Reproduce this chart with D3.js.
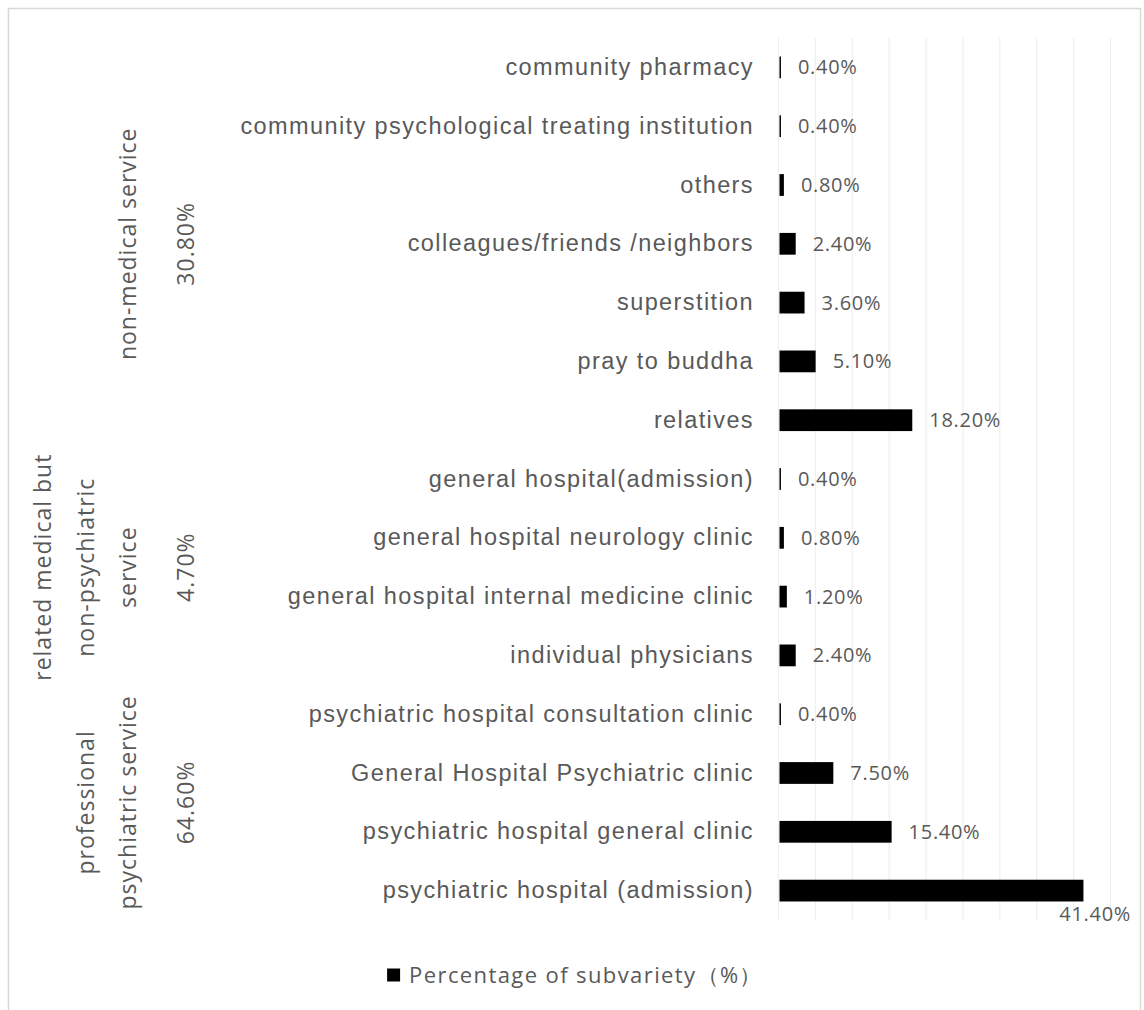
<!DOCTYPE html>
<html>
<head>
<meta charset="utf-8">
<script src="https://cdn.jsdelivr.net/npm/d3@7"></script>
<style>
  html, body { margin: 0; padding: 0; background: #fff; }
  svg { display: block; font-family: "Microsoft YaHei", "Open Sans", "Noto Sans", sans-serif; }
</style>
</head>
<body>
<svg id="chart" width="1144" height="1010"></svg>
<script>
// categories top → bottom, as drawn
const CATEGORIES = [
    "community pharmacy",
    "community psychological treating institution",
    "others",
    "colleagues/friends /neighbors",
    "superstition",
    "pray to buddha",
    "relatives",
    "general hospital(admission)",
    "general hospital neurology clinic",
    "general hospital internal medicine clinic",
    "individual physicians",
    "psychiatric hospital consultation clinic",
    "General Hospital Psychiatric clinic",
    "psychiatric hospital general clinic",
    "psychiatric hospital (admission)"
];
const VALUES = [0.4, 0.4, 0.8, 2.4, 3.6, 5.1, 18.2, 0.4, 0.8, 1.2, 2.4, 0.4, 7.5, 15.4, 41.4];
const LABELS = ["0.40%", "0.40%", "0.80%", "2.40%", "3.60%", "5.10%", "18.20%", "0.40%",
                "0.80%", "1.20%", "2.40%", "0.40%", "7.50%", "15.40%", "41.40%"];

// outer grouping (rotated labels on the left)
const GROUP_LINES = [
    ["non-medical service"],
    ["related medical but", "non-psychiatric", "service"],
    ["professional", "psychiatric service"]
];
const GROUP_PCT = ["30.80%", "4.70%", "64.60%"];
const GROUP_SPAN = [[0, 6], [7, 10], [11, 14]];   // first/last category index

const X_TICKS = [0, 5, 10, 15, 20, 25, 30, 35, 40, 45];
const LEGEND_LABEL = "Percentage of subvariety\uFF08%\uFF09";

const TXT = "#595959";
const svg = d3.select("#chart");

// chart frame
svg.append("rect").attr("x", 8.5).attr("y", 8.5).attr("width", 1132).attr("height", 1020)
    .attr("fill", "#fff").attr("stroke", "#d9d9d9").attr("stroke-width", 1.5);

const plot = { left: 778, right: 1110, top: 38, bottom: 920 };

const x = d3.scaleLinear().domain([0, 45]).range([plot.left, plot.right]);
const y = d3.scaleBand().domain(CATEGORIES).range([plot.top, plot.bottom])
    .paddingInner(0.63).paddingOuter(0.315);

// gridlines
const grid = svg.append("g").attr("transform", `translate(0,${plot.bottom})`)
    .call(d3.axisBottom(x).tickValues(X_TICKS).tickSize(-(plot.bottom - plot.top)).tickFormat(""));
grid.select(".domain").remove();
grid.selectAll("line").attr("stroke", "#efefef").attr("stroke-width", 1.2);

// category axis
const yAx = svg.append("g").attr("transform", `translate(${plot.left},0)`)
    .call(d3.axisLeft(y).tickSize(0).tickPadding(24));
yAx.select(".domain").remove();
yAx.selectAll("text").attr("fill", TXT).attr("font-size", "23.5px")
    .attr("letter-spacing", "1.4px").attr("font-family", null);

// bars — start just right of the zero line, so tiny values read as hairlines
const gap0 = 1.5;
svg.append("g").selectAll("rect").data(CATEGORIES).join("rect")
    .attr("x", x(0) + gap0)
    .attr("y", d => y(d))
    .attr("width", (d, i) => Math.max(0, x(VALUES[i]) - x(0) - gap0))
    .attr("height", y.bandwidth())
    .attr("fill", "#000");

// value labels — outside end; the long one drops below its bar like Excel does
const vl = svg.append("g").attr("font-size", "20px").attr("letter-spacing", "0.7px").attr("fill", TXT);
CATEGORIES.forEach((c, i) => {
    const t = vl.append("text").text(LABELS[i])
        .attr("x", x(VALUES[i]) + 17)
        .attr("y", y(c) + y.bandwidth() / 2)
        .attr("dy", "0.35em");
    const w = t.node().getComputedTextLength();
    if (x(VALUES[i]) + 17 + w > 1134) {
        t.attr("text-anchor", "end")
            .attr("x", 1131)
            .attr("y", y(c) + y.bandwidth() + 13);
    }
});

// group labels, rotated
const lineGap = 42.5, lastLineX = 128, pctX = 186;
const gl = svg.append("g").attr("fill", TXT).attr("font-size", "23px")
    .attr("letter-spacing", "1px").attr("text-anchor", "middle");
GROUP_LINES.forEach((lines, gi) => {
    const [a, b] = GROUP_SPAN[gi];
    const cy = (y(CATEGORIES[a]) - y.step() * y.paddingInner() / 2
              + y(CATEGORIES[b]) + y.bandwidth() + y.step() * y.paddingInner() / 2) / 2;
    lines.forEach((ln, li) => {
        const cx = lastLineX - (lines.length - 1 - li) * lineGap;
        gl.append("text").attr("transform", `translate(${cx},${cy}) rotate(-90)`)
            .attr("dy", "0.35em").text(ln);
    });
    gl.append("text").attr("transform", `translate(${pctX},${cy}) rotate(-90)`)
        .attr("dy", "0.35em").text(GROUP_PCT[gi]);
});

// legend
const leg = svg.append("g");
const legText = leg.append("text").attr("x", 22).attr("y", 0).attr("dy", "0.35em")
    .attr("fill", TXT).attr("font-size", "22px").attr("letter-spacing", "1.4px").text(LEGEND_LABEL);
leg.append("rect").attr("x", 0).attr("y", -6.5).attr("width", 13).attr("height", 13).attr("fill", "#000");
const legW = 22 + legText.node().getComputedTextLength();
leg.attr("transform", `translate(${575 - legW / 2},975)`);
</script>
</body>
</html>
